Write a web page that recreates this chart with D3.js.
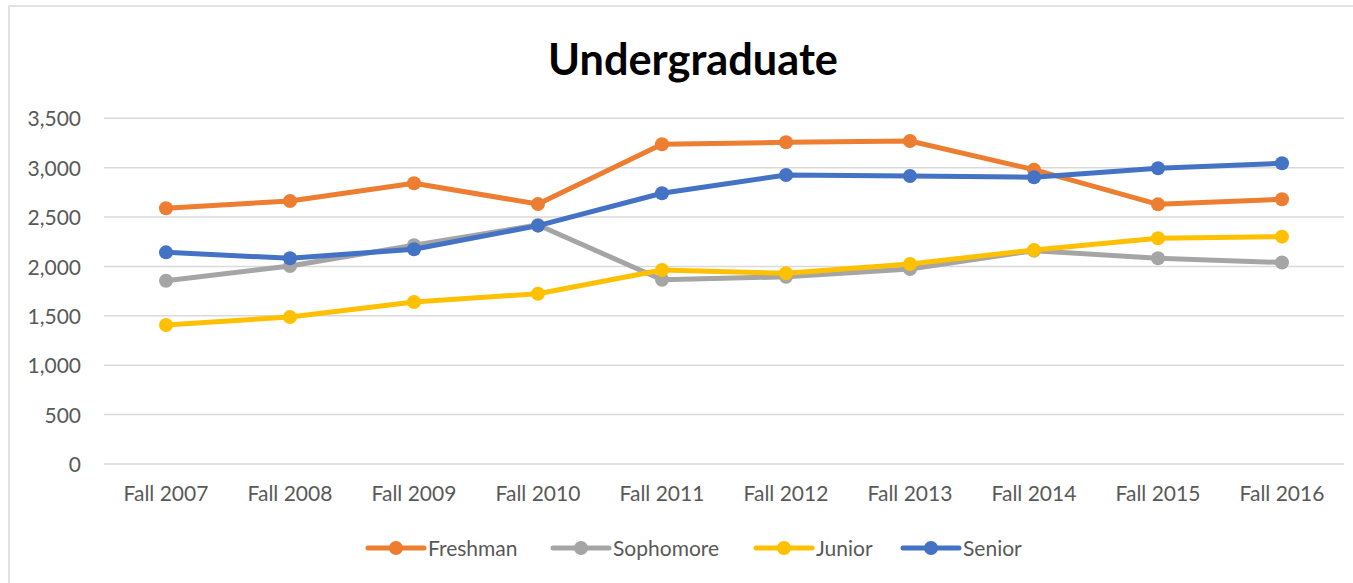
<!DOCTYPE html>
<html>
<head>
<meta charset="utf-8">
<script src="https://cdn.jsdelivr.net/npm/d3@7"></script>
<style>
  html, body { margin: 0; padding: 0; background: #fff; }
  svg { display: block; }
</style>
</head>
<body>
<svg id="chart" width="1353" height="583"></svg>
<script>
const categories = ["Fall 2007","Fall 2008","Fall 2009","Fall 2010","Fall 2011","Fall 2012","Fall 2013","Fall 2014","Fall 2015","Fall 2016"];
const freshman   = [2589, 2663, 2842, 2632, 3237, 3257, 3270, 2980, 2629, 2680];
const sophomore  = [1856, 2005, 2215, 2420, 1865, 1895, 1975, 2160, 2083, 2040];
const junior     = [1407, 1488, 1640, 1724, 1964, 1931, 2025, 2167, 2285, 2302];
const senior     = [2143, 2083, 2174, 2413, 2741, 2926, 2916, 2903, 2994, 3045];
const seriesNames = ["Freshman","Sophomore","Junior","Senior"];
const seriesColors = ["#ED7D31","#A5A5A5","#FFC000","#4472C4"];
const yTicks = [0, 500, 1000, 1500, 2000, 2500, 3000, 3500];
const title = "Undergraduate";

(function () {
const seriesValues = [freshman, sophomore, junior, senior];
const svg = d3.select("#chart");
const FONT = "Lato, 'Open Sans', sans-serif";
const TEXT = "#595959";

// chart border
svg.append("rect").attr("x", 9).attr("y", 6).attr("width", 1360).attr("height", 600)
  .attr("fill", "none").attr("stroke", "#d9d9d9").attr("stroke-width", 1.5);

const pLeft = 104, pRight = 1344, pTop = 118.3, pBottom = 464;
const x = d3.scaleBand().domain(categories).range([pLeft, pRight]);
const y = d3.scaleLinear().domain([0, 3500]).range([pBottom, pTop]);

// gridlines
svg.append("g").selectAll("line").data(yTicks).join("line")
  .attr("x1", pLeft).attr("x2", pRight)
  .attr("y1", d => y(d)).attr("y2", d => y(d))
  .attr("stroke", "#d9d9d9").attr("stroke-width", 1.5);

// y axis labels
const yAxis = d3.axisLeft(y).tickValues(yTicks).tickFormat(d3.format(",")).tickSize(0).tickPadding(0);
const gy = svg.append("g").attr("transform", `translate(81,0)`).call(yAxis);
gy.select(".domain").remove();
gy.selectAll("text").attr("font-family", FONT).attr("font-size", 21).attr("fill", TEXT).attr("dy", "0.36em");

// x axis labels
const xAxis = d3.axisBottom(x).tickSize(0).tickPadding(0);
const gx = svg.append("g").attr("transform", `translate(0,${pBottom})`).call(xAxis);
gx.select(".domain").remove();
gx.selectAll("text").attr("font-family", FONT).attr("font-size", 21).attr("fill", TEXT).attr("dy", null).attr("y", 37);

// lines and markers
const line = d3.line().x((d, i) => x(categories[i]) + x.bandwidth() / 2).y(d => y(d));
seriesValues.forEach((vals, si) => {
  const g = svg.append("g");
  g.append("path").datum(vals).attr("d", line).attr("fill", "none")
    .attr("stroke", seriesColors[si]).attr("stroke-width", 5).attr("stroke-linejoin", "round").attr("stroke-linecap", "round");
  g.selectAll("circle").data(vals).join("circle")
    .attr("cx", (d, i) => x(categories[i]) + x.bandwidth() / 2)
    .attr("cy", d => y(d)).attr("r", 7).attr("fill", seriesColors[si]);
});

// title
const t = svg.append("text").attr("x", 693).attr("y", 75).attr("text-anchor", "middle")
  .attr("font-family", FONT).attr("font-weight", "bold").attr("font-size", 44).attr("fill", "#000").text(title);
const tw = t.node().getComputedTextLength();
t.attr("font-size", 44 * 290 / tw);

// legend
const legendX = [368, 553, 756, 903];
const legendY = 548;
seriesNames.forEach((name, i) => {
  const g = svg.append("g");
  g.append("line").attr("x1", legendX[i]).attr("x2", legendX[i] + 56).attr("y1", legendY).attr("y2", legendY)
    .attr("stroke", seriesColors[i]).attr("stroke-width", 5).attr("stroke-linecap", "round");
  g.append("circle").attr("cx", legendX[i] + 28).attr("cy", legendY).attr("r", 7).attr("fill", seriesColors[i]);
  g.append("text").attr("x", legendX[i] + 60).attr("y", legendY).attr("dy", "0.36em")
    .attr("font-family", FONT).attr("font-size", 21).attr("fill", TEXT).text(name);
});
})();
</script>
</body>
</html>
